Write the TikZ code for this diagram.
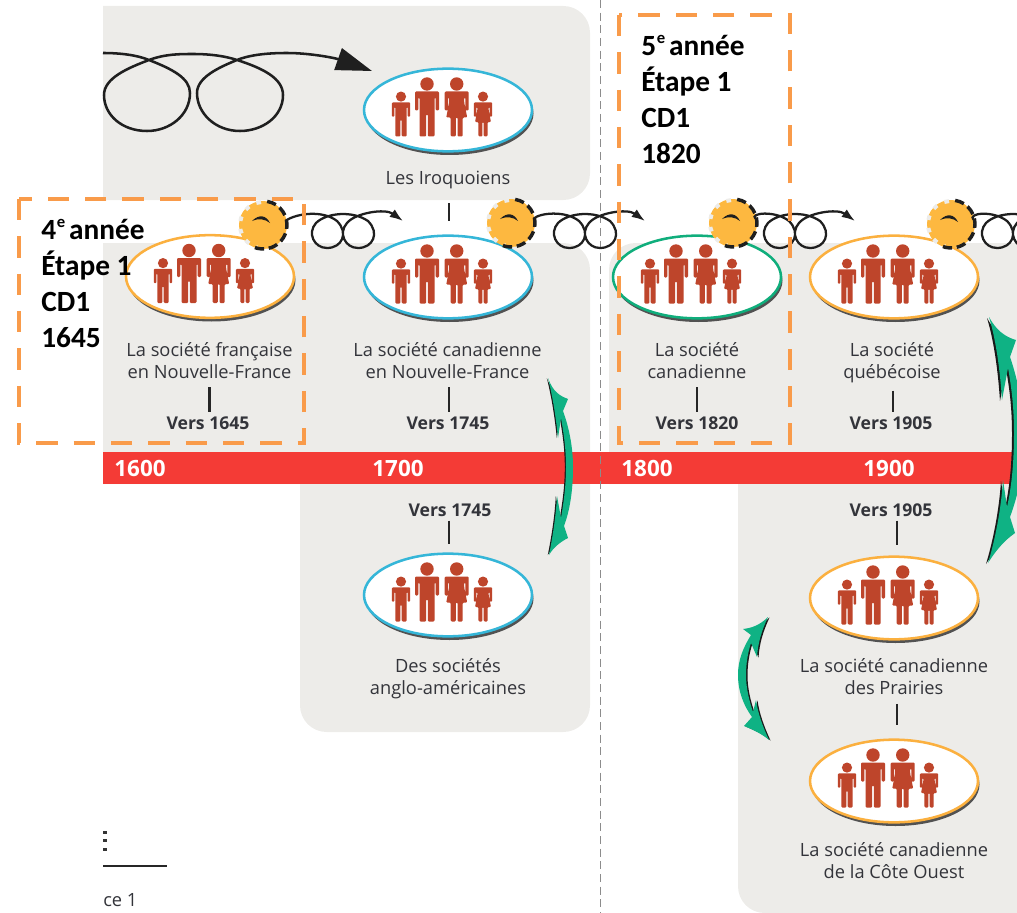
\documentclass[tikz,border=0pt]{standalone}
\usepackage{fontspec}
\setmainfont{Open Sans}
\newfontfamily\ovl{Carlito}
\usetikzlibrary{arrows.meta,shapes.geometric}
\definecolor{panel}{HTML}{EDECE9}
\definecolor{barred}{HTML}{F43B36}
\definecolor{ovo}{HTML}{FBB03F}
\definecolor{ovb}{HTML}{35B6D8}
\definecolor{ovg}{HTML}{10AE7C}
\definecolor{famc}{HTML}{BE452B}
\definecolor{gearc}{HTML}{FDB840}
\definecolor{dashc}{HTML}{F99B4A}
\definecolor{grn}{HTML}{0FB284}
\definecolor{txtc}{HTML}{33343A}
\newcommand{\supe}{\kern0.5pt\smash{\raisebox{9pt}{\fontsize{12.5}{13}\selectfont e}}\kern-2pt}
\tikzset{
  x=0.75pt,y=-0.75pt,
  panelfill/.style={fill=panel,draw=none},
  ovalbase/.style={shape=ellipse,minimum width=126pt,minimum height=62pt,inner sep=0pt,fill=white,line width=1.9pt},
  lbl/.style={font=\fontsize{13.7}{16.5}\selectfont,text=txtc,align=center,inner sep=0pt},
  vers/.style={font=\fontsize{13.2}{14}\selectfont\bfseries,text=txtc,align=center,inner sep=0pt},
  ticklink/.style={line width=1.6pt,black!85},
  year/.style={font=\fontsize{16.8}{18}\selectfont\bfseries,text=white,inner sep=0pt},
  ovlbox/.style={draw=dashc,line width=3.4pt,dash pattern=on 16pt off 12pt},
  ovltext/.style={font=\ovl\fontsize{22}{27}\selectfont\bfseries,align=left,anchor=north west,inner sep=0pt,text=black},
  loopline/.style={line width=1.7pt,black!88},
}
\newcommand{\manfig}[3]{\begin{scope}[shift={(#1,#2)},scale=#3]
 \fill[famc] (0,-52.5) circle (6.7);
 \fill[famc,rounded corners=0.8] (-12,-45) -- (12,-45) -- (12,-26) -- (8.7,-26) -- (8.7,-39) -- (7.5,-39) -- (7.5,0) -- (0.9,0) -- (0.9,-22) -- (-0.9,-22) -- (-0.9,0) -- (-7.5,0) -- (-7.5,-39) -- (-8.7,-39) -- (-8.7,-26) -- (-12,-26) -- cycle;
\end{scope}}
\newcommand{\womanfig}[3]{\begin{scope}[shift={(#1,#2)},scale=#3]
 \fill[famc] (0,-52.5) circle (6.7);
 \fill[famc,rounded corners=0.8] (-12,-45) -- (12,-45) -- (12,-26) -- (8.7,-26) -- (8.7,-39) -- (7.5,-39) -- (7.5,-34) -- (10.5,-19) -- (6,-19) -- (6,0) -- (0.9,0) -- (0.9,-19) -- (-0.9,-19) -- (-0.9,0) -- (-6,0) -- (-6,-19) -- (-10.5,-19) -- (-7.5,-34) -- (-7.5,-39) -- (-8.7,-39) -- (-8.7,-26) -- (-12,-26) -- cycle;
\end{scope}}
\newcommand{\famgroup}[2]{%
 \manfig{#1-47}{#2+26.5}{0.76}
 \manfig{#1-21}{#2+26.5}{1}
 \womanfig{#1+8.7}{#2+26.5}{1}
 \womanfig{#1+35}{#2+26.5}{0.76}}
\newcommand{\ovalperson}[4]{%
 \fill[black!68] (#2+1.5,#3+3.5) ellipse (84 and 41.5);
 \node[ovalbase,draw=#4] (#1) at (#2,#3) {};
 \famgroup{#2}{#3}}
\newcommand{\gearsym}[3]{%
 \node[circle,fill=gearc,minimum size=36pt,inner sep=0pt] (#1) at (#2,#3) {};
 \draw[panel,line width=3pt,dash pattern=on 3.5pt off 6pt] (#2,#3) ++(-95:23) arc[start angle=-95,end angle=-255,radius=23];
 \draw[black!88,line width=2.6pt,dash pattern=on 7pt off 3.5pt] (#2,#3) ++(-80:24) arc[start angle=-80,end angle=115,radius=24];
 \fill[black!88] (#2-11,#3-4) .. controls (#2-4,#3-11) and (#2+3,#3-10) .. (#2+7,#3-2) .. controls (#2+2,#3-6) and (#2-4,#3-7) .. (#2-11,#3-4) -- cycle;
}
\newcommand{\gearloops}[2]{%
 \draw[loopline,-{Latex[length=10pt,width=7pt]}] ([xshift=-1pt]#2.10) .. controls (#1+297,213) and (#1+323,210) .. (#1+337,221) .. controls (#1+349,233) and (#1+342,248) .. (#1+327,248) .. controls (#1+314,248) and (#1+307,233) .. (#1+316,223) .. controls (#1+326,213) and (#1+352,210) .. (#1+368,221) .. controls (#1+380,233) and (#1+373,248) .. (#1+358,248) .. controls (#1+345,248) and (#1+338,233) .. (#1+347,223) .. controls (#1+355,213) and (#1+385,208) .. (#1+403,221);
}
\begin{document}
\begin{tikzpicture}
\useasboundingbox (0,0) rectangle (1017,913);
\clip (0,0) rectangle (1017,913);
% panels
\fill[panelfill] (103,6) [rounded corners=20pt] -- (590,6) -- (590,200) [sharp corners] -- (103,200) -- cycle;
\fill[panelfill] (103,243) [rounded corners=20pt] -- (590,243) -- (590,732) -- (300,732) [sharp corners] -- (300,484) -- (103,484) -- cycle;
\fill[panelfill] (1017,243) [rounded corners=20pt] -- (609,243) [sharp corners] -- (609,484) -- (738,484) [rounded corners=20pt] -- (738,913) [sharp corners] -- (1017,913) -- cycle;
% bar
\fill[barred] (103,452) rectangle (1017,484);
% centre line
\draw[black!45,line width=1pt,dash pattern=on 6pt off 3.5pt] (600.5,0) -- (600.5,913);
\node[year] (y16) at (140,468) {1600};
\node[year] (y17) at (398,468) {1700};
\node[year] (y18) at (647,468) {1800};
\node[year] (y19) at (889,468) {1900};
% ovals
\ovalperson{o1}{210}{276.5}{ovo}
\ovalperson{o2}{448}{277}{ovb}
\ovalperson{o3}{448}{110}{ovb}
\ovalperson{o4}{448}{595}{ovb}
\ovalperson{o5}{697}{277}{ovg}
\ovalperson{o6}{894}{277}{ovo}
\ovalperson{o7}{894}{598}{ovo}
\ovalperson{o8}{894}{781}{ovo}
% labels
\node[lbl] (l3) at (448,180) {Les Iroquoiens};
\node[lbl] (l1) at (209.5,360.5) {La société française\\en Nouvelle-France};
\node[lbl] (l2) at (447.5,360.5) {La société canadienne\\en Nouvelle-France};
\node[lbl] (l5) at (697,360.5) {La société\\canadienne};
\node[lbl] (l6) at (892,363) {La société\\québécoise};
\node[vers] (v1) at (208,423) {Vers 1645};
\node[vers] (v2) at (448,423) {Vers 1745};
\node[vers] (v5) at (697,423) {Vers 1820};
\node[vers] (v6) at (891,423) {Vers 1905};
\node[vers] (v4) at (450,510) {Vers 1745};
\node[vers] (v7) at (891,510) {Vers 1905};
\node[lbl] (l4) at (448,679) {Des sociétés\\anglo-américaines};
\node[lbl] (l7) at (894,677) {La société canadienne\\des Prairies};
\node[lbl] (l8) at (894,860.5) {La société canadienne\\de la Côte Ouest};
% ticks
\draw[ticklink] ([xshift=0.75pt,yshift=-10.5pt]l3.south) -- ([xshift=0.75pt,yshift=10pt]l3.south |- o2.north);
\draw[ticklink] ([yshift=-6.4pt]l1.south) -- ([yshift=3pt]l1.south |- v1.north);
\draw[ticklink] ([xshift=1pt,yshift=-6.4pt]l2.south) -- ([xshift=1pt,yshift=3pt]l2.south |- v2.north);
\draw[ticklink] ([yshift=-6.4pt]l5.south) -- ([yshift=3pt]l5.south |- v5.north);
\draw[ticklink] ([xshift=1pt,yshift=-5.4pt]l6.south) -- ([xshift=1pt,yshift=3pt]l6.south |- v6.north);
\draw[ticklink] ([xshift=-0.75pt,yshift=-3pt]v4.south) -- ([xshift=-0.75pt,yshift=6pt]v4.south |- o4.north);
\draw[ticklink] ([xshift=4.5pt,yshift=-3pt]v7.south) -- ([xshift=4.5pt,yshift=8pt]v7.south |- o7.north);
\draw[ticklink] ([xshift=2pt,yshift=-6.4pt]l7.south) -- ([xshift=2pt,yshift=10pt]l7.south |- o8.north);
% gears and loops
\gearsym{g1}{263}{225}
\gearsym{g2}{511}{223}
\gearsym{g3}{733}{223}
\gearsym{g4}{951}{224}
\gearloops{0}{g1}
\gearloops{242}{g2}
\gearloops{452}{g3}
\gearloops{670}{g4}
% big loops
\draw[line width=1.9pt,black!88,-{Triangle[length=27pt,width=17pt]}] (103,53) .. controls (120,53) and (137,55) .. (149,60) .. controls (172,69) and (190,78) .. (190,93) .. controls (190,115) and (170,131) .. (147,131) .. controls (122,131) and (104,115) .. (104,95) .. controls (104,78) and (128,68) .. (149,60) .. controls (165,54) and (180,54) .. (193,54) .. controls (210,54) and (225,56) .. (237,60) .. controls (262,68) and (283,78) .. (283,95) .. controls (283,117) and (262,131) .. (240,131) .. controls (215,131) and (197,113) .. (197,93) .. controls (197,77) and (220,67) .. (237,60) .. controls (252,54) and (272,53) .. (287,53) .. controls (310,53) and (335,58) .. (372,71);
% green arrows
\newcommand{\arrowA}{(548,378) .. controls (553,392) and (560,396) .. (568,399) -- (563,411) .. controls (570,430) and (573,450) .. (573,467) .. controls (573,490) and (570,510) .. (564,526) -- (568,538) .. controls (560,542) and (553,548) .. (549,555) .. controls (553,535) and (556,515) .. (557,496) -- (561,518) .. controls (564,500) and (566,485) .. (566,467) .. controls (566,450) and (564,435) .. (561,418) -- (558,438) .. controls (556,418) and (553,398) .. (548,378) -- cycle}
\newcommand{\arrowB}{(768,617) .. controls (760,625) and (752,628) .. (743,629) -- (751,635) .. controls (743,648) and (738,660) .. (738,675) .. controls (738,692) and (744,706) .. (752,717) -- (744,726) .. controls (754,730) and (762,734) .. (769,740) .. controls (763,727) and (758,714) .. (756,700) -- (753,712) .. controls (749,700) and (746,688) .. (746,675) .. controls (746,663) and (748,652) .. (751,643) -- (757,657) .. controls (758,642) and (762,630) .. (768,617) -- cycle}
\newcommand{\arrowC}{(989,317) .. controls (996,330) and (1005,337) .. (1016,340) -- (1010,357) .. controls (1018,380) and (1024,410) .. (1024,440) .. controls (1024,470) and (1018,495) .. (1010,517) -- (1015,533) .. controls (1005,540) and (996,550) .. (988,563) .. controls (995,540) and (1001,510) .. (1003,480) -- (1007,507) .. controls (1012,485) and (1014,460) .. (1014,433) .. controls (1014,410) and (1012,390) .. (1008,368) -- (1002,400) .. controls (1000,370) and (996,340) .. (989,317) -- cycle}
\fill[black!90,shift={(-1.2,0)}] \arrowA;
\fill[grn] \arrowA;
\fill[black!90,shift={(1.5,0.5)}] \arrowB;
\fill[grn] \arrowB;
\fill[black!90,shift={(-2,1)}] \arrowC;
\fill[grn] \arrowC;
% bottom left fragments
\fill[black!80] (103,831) rectangle (107,834);
\fill[black!80] (103,839) rectangle (107,842);
\fill[black!80] (103,847.5) rectangle (107,850.5);
\draw[black!85,line width=1.5pt] (103,866) -- (167,866);
\node[lbl,anchor=west] (frag) at (103,900) {ce 1};
% overlay boxes
\draw[ovlbox] (19,199) rectangle (304,443);
\draw[ovlbox] (619,15) rectangle (790,443);
\node[ovltext] (t1) at (41,218.5) {4\supe{} année\\Étape 1\\CD1\\1645};
\node[ovltext] (t2) at (641,35) {5\supe{} année\\Étape 1\\CD1\\1820};
\end{tikzpicture}
\end{document}
